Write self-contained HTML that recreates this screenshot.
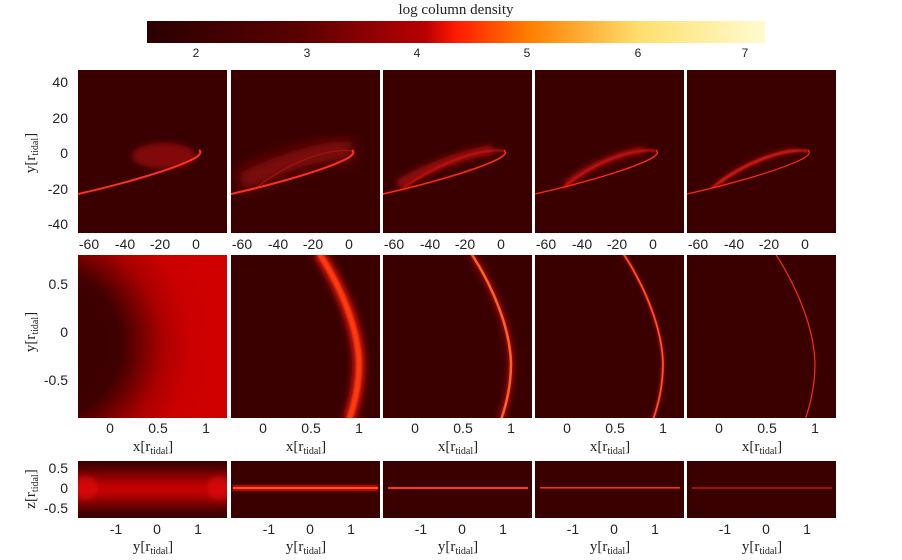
<!DOCTYPE html>
<html><head><meta charset="utf-8"><style>
html,body{margin:0;padding:0;background:#fff;width:902px;height:560px;overflow:hidden}
svg{display:block}
.t{font-family:"Liberation Sans",sans-serif;font-size:14px;fill:#222}
.s{font-family:"Liberation Serif",serif;font-size:15px;fill:#222}
.c{font-family:"Liberation Sans",sans-serif;font-size:12px;fill:#222}
</style></head><body>
<svg width="902" height="560" xmlns="http://www.w3.org/2000/svg">
<defs>
<linearGradient id="cb" x1="0" x2="1">
<stop offset="0" stop-color="#2a0000"/><stop offset="0.25" stop-color="#5a0000"/>
<stop offset="0.45" stop-color="#b80000"/><stop offset="0.5" stop-color="#ff1a00"/>
<stop offset="0.62" stop-color="#ff8000"/><stop offset="0.8" stop-color="#ffe070"/>
<stop offset="1" stop-color="#fffbd0"/></linearGradient>
<filter id="b1" x="-50%" y="-50%" width="200%" height="200%"><feGaussianBlur stdDeviation="1"/></filter>
<filter id="b3" x="-50%" y="-50%" width="200%" height="200%"><feGaussianBlur stdDeviation="3"/></filter>
<filter id="b8" x="-50%" y="-50%" width="200%" height="200%"><feGaussianBlur stdDeviation="7"/></filter>
<radialGradient id="rg" cx="-30" cy="90" r="190" gradientUnits="userSpaceOnUse">
<stop offset="0" stop-color="#3a0000"/><stop offset="0.38" stop-color="#3e0000"/>
<stop offset="0.6" stop-color="#aa0000"/><stop offset="0.75" stop-color="#cc0000"/><stop offset="1" stop-color="#d00000"/></radialGradient>
<linearGradient id="zg" x1="0" y1="0" x2="0" y2="1">
<stop offset="0" stop-color="#3a0000"/><stop offset="0.25" stop-color="#8a0000"/>
<stop offset="0.5" stop-color="#d00000"/><stop offset="0.75" stop-color="#8a0000"/><stop offset="1" stop-color="#3a0000"/></linearGradient>
<clipPath id="c1"><rect width="149" height="163"/></clipPath>
<clipPath id="c3"><rect width="149" height="57"/></clipPath>
<path id="arc" d="M88,-2 C112,35 127,75 128,108 C128,132 123,150 118,165"/>
</defs>
<text x="456" y="14" text-anchor="middle" class="s">log column density</text>
<rect x="147" y="21" width="618" height="22" fill="url(#cb)"/>
<g class="c" text-anchor="middle">
<text x="196" y="57">2</text><text x="307" y="57">3</text><text x="417" y="57">4</text>
<text x="527" y="57">5</text><text x="638" y="57">6</text><text x="745" y="57">7</text></g>

<!-- Row 1 -->
<g transform="translate(78,70)" clip-path="url(#c1)"><rect width="149" height="163" fill="#3a0000"/>
<ellipse cx="86" cy="86" rx="32" ry="13" fill="#a01010" opacity="0.7" filter="url(#b3)"/>
<path d="M0,124 C40,115 95,100 117,88 Q125,83 121,80" stroke="#ff3020" stroke-width="2" fill="none"/></g>
<g transform="translate(231,70)" clip-path="url(#c1)"><rect width="149" height="163" fill="#3a0000"/>
<path d="M121,81 C100,78 60,88 10,112" stroke="#8a0808" stroke-width="18" fill="none" filter="url(#b8)"/>
<path d="M121,81 C100,78 60,90 25,118" stroke="#a01010" stroke-width="1.2" fill="none"/>
<path d="M0,124 C40,115 95,100 117,88 Q125,83 121,80" stroke="#ff3020" stroke-width="2" fill="none"/></g>
<g transform="translate(383,70)" clip-path="url(#c1)"><rect width="149" height="163" fill="#3a0000"/>
<path d="M110,80 C90,82 50,94 15,115" stroke="#900808" stroke-width="10" fill="none" filter="url(#b3)"/>
<path d="M121,81 C100,78 60,90 20,118" stroke="#d01010" stroke-width="2" fill="none" filter="url(#b1)"/>
<path d="M0,124 C40,115 95,100 117,88 Q125,83 121,80" stroke="#ff2a10" stroke-width="1.6" fill="none"/></g>
<g transform="translate(535,70)" clip-path="url(#c1)"><rect width="149" height="163" fill="#3a0000"/>
<path d="M110,80 C90,82 55,94 30,115" stroke="#900808" stroke-width="7" fill="none" filter="url(#b3)"/>
<path d="M121,81 C100,78 60,90 28,118" stroke="#e01010" stroke-width="2" fill="none" filter="url(#b1)"/>
<path d="M0,124 C40,115 95,100 117,88 Q125,83 121,80" stroke="#ff2a10" stroke-width="1.4" fill="none"/></g>
<g transform="translate(687,70)" clip-path="url(#c1)"><rect width="149" height="163" fill="#3a0000"/>
<path d="M110,80 C90,82 55,94 30,115" stroke="#800808" stroke-width="5" fill="none" filter="url(#b3)"/>
<path d="M121,81 C100,78 60,90 25,118" stroke="#ff2010" stroke-width="2" fill="none" filter="url(#b1)"/>
<path d="M0,124 C40,115 95,100 117,88 Q125,83 121,80" stroke="#ff2a10" stroke-width="1.2" fill="none"/></g>
<g class="t" text-anchor="end"><text x="68" y="87">40</text><text x="68" y="123">20</text><text x="68" y="158">0</text><text x="68" y="194">-20</text><text x="68" y="229">-40</text></g>
<g class="t" text-anchor="middle">
<g transform="translate(78,249)"><text x="11">-60</text><text x="47">-40</text><text x="82">-20</text><text x="118">0</text></g>
<g transform="translate(231,249)"><text x="11">-60</text><text x="47">-40</text><text x="82">-20</text><text x="118">0</text></g>
<g transform="translate(383,249)"><text x="11">-60</text><text x="47">-40</text><text x="82">-20</text><text x="118">0</text></g>
<g transform="translate(535,249)"><text x="11">-60</text><text x="47">-40</text><text x="82">-20</text><text x="118">0</text></g>
<g transform="translate(687,249)"><text x="11">-60</text><text x="47">-40</text><text x="82">-20</text><text x="118">0</text></g></g>
<text class="s" transform="translate(35,153) rotate(-90)" text-anchor="middle">y[r<tspan font-size="10" dy="3">tidal</tspan><tspan dy="-3">]</tspan></text>

<!-- Row 2 -->
<g transform="translate(78,255)" clip-path="url(#c1)"><rect width="149" height="163" fill="url(#rg)"/></g>
<g transform="translate(231,255)" clip-path="url(#c1)"><rect width="149" height="163" fill="#3a0000"/>
<use href="#arc" stroke="#b01010" stroke-width="14" fill="none" filter="url(#b3)"/>
<use href="#arc" stroke="#ff3a10" stroke-width="6" fill="none" filter="url(#b1)"/></g>
<g transform="translate(383,255)" clip-path="url(#c1)"><rect width="149" height="163" fill="#3a0000"/>
<use href="#arc" stroke="#a00808" stroke-width="6" fill="none" filter="url(#b3)"/>
<use href="#arc" stroke="#ff6020" stroke-width="2.5" fill="none"/></g>
<g transform="translate(535,255)" clip-path="url(#c1)"><rect width="149" height="163" fill="#3a0000"/>
<use href="#arc" stroke="#900808" stroke-width="4" fill="none" filter="url(#b1)"/>
<use href="#arc" stroke="#ff5020" stroke-width="1.8" fill="none"/></g>
<g transform="translate(687,255)" clip-path="url(#c1)"><rect width="149" height="163" fill="#3a0000"/>
<use href="#arc" stroke="#ff2a10" stroke-width="1.2" fill="none"/></g>
<g class="t" text-anchor="end"><text x="68" y="289">0.5</text><text x="68" y="337">0</text><text x="68" y="385">-0.5</text></g>
<g class="t" text-anchor="middle">
<g transform="translate(78,433)"><text x="32">0</text><text x="80">0.5</text><text x="128">1</text></g>
<g transform="translate(231,433)"><text x="32">0</text><text x="80">0.5</text><text x="128">1</text></g>
<g transform="translate(383,433)"><text x="32">0</text><text x="80">0.5</text><text x="128">1</text></g>
<g transform="translate(535,433)"><text x="32">0</text><text x="80">0.5</text><text x="128">1</text></g>
<g transform="translate(687,433)"><text x="32">0</text><text x="80">0.5</text><text x="128">1</text></g></g>
<g class="s" text-anchor="middle">
<text x="153" y="451">x[r<tspan font-size="10" dy="3">tidal</tspan><tspan dy="-3">]</tspan></text>
<text x="306" y="451">x[r<tspan font-size="10" dy="3">tidal</tspan><tspan dy="-3">]</tspan></text>
<text x="458" y="451">x[r<tspan font-size="10" dy="3">tidal</tspan><tspan dy="-3">]</tspan></text>
<text x="610" y="451">x[r<tspan font-size="10" dy="3">tidal</tspan><tspan dy="-3">]</tspan></text>
<text x="762" y="451">x[r<tspan font-size="10" dy="3">tidal</tspan><tspan dy="-3">]</tspan></text></g>
<text class="s" transform="translate(35,332) rotate(-90)" text-anchor="middle">y[r<tspan font-size="10" dy="3">tidal</tspan><tspan dy="-3">]</tspan></text>

<!-- Row 3 -->
<g transform="translate(78,461)" clip-path="url(#c3)"><rect width="149" height="57" fill="#3a0000"/>
<rect x="-5" y="3" width="159" height="50" fill="url(#zg)" filter="url(#b3)"/>
<ellipse cx="8" cy="27" rx="12" ry="12" fill="#e01010" opacity="0.6" filter="url(#b3)"/>
<ellipse cx="141" cy="27" rx="12" ry="12" fill="#e01010" opacity="0.6" filter="url(#b3)"/></g>
<g transform="translate(231,461)" clip-path="url(#c3)"><rect width="149" height="57" fill="#3a0000"/>
<rect x="2" y="24" width="145" height="6" fill="#c01010" filter="url(#b1)"/>
<rect x="2" y="26" width="145" height="2" fill="#ff5020"/></g>
<g transform="translate(383,461)" clip-path="url(#c3)"><rect width="149" height="57" fill="#3a0000"/>
<rect x="5" y="26" width="140" height="2" fill="#ff3a10"/></g>
<g transform="translate(535,461)" clip-path="url(#c3)"><rect width="149" height="57" fill="#3a0000"/>
<rect x="5" y="26" width="140" height="1.6" fill="#ff3010"/></g>
<g transform="translate(687,461)" clip-path="url(#c3)"><rect width="149" height="57" fill="#3a0000"/>
<rect x="5" y="26.5" width="140" height="1" fill="#ff2a10"/></g>
<g class="t" text-anchor="end"><text x="68" y="473">0.5</text><text x="68" y="493">0</text><text x="68" y="513">-0.5</text></g>
<g class="t" text-anchor="middle">
<g transform="translate(78,534)"><text x="38">-1</text><text x="79">0</text><text x="120">1</text></g>
<g transform="translate(231,534)"><text x="38">-1</text><text x="79">0</text><text x="120">1</text></g>
<g transform="translate(383,534)"><text x="38">-1</text><text x="79">0</text><text x="120">1</text></g>
<g transform="translate(535,534)"><text x="38">-1</text><text x="79">0</text><text x="120">1</text></g>
<g transform="translate(687,534)"><text x="38">-1</text><text x="79">0</text><text x="120">1</text></g></g>
<g class="s" text-anchor="middle">
<text x="153" y="551">y[r<tspan font-size="10" dy="3">tidal</tspan><tspan dy="-3">]</tspan></text>
<text x="306" y="551">y[r<tspan font-size="10" dy="3">tidal</tspan><tspan dy="-3">]</tspan></text>
<text x="458" y="551">y[r<tspan font-size="10" dy="3">tidal</tspan><tspan dy="-3">]</tspan></text>
<text x="610" y="551">y[r<tspan font-size="10" dy="3">tidal</tspan><tspan dy="-3">]</tspan></text>
<text x="762" y="551">y[r<tspan font-size="10" dy="3">tidal</tspan><tspan dy="-3">]</tspan></text></g>
<text class="s" transform="translate(35,489) rotate(-90)" text-anchor="middle">z[r<tspan font-size="10" dy="3">tidal</tspan><tspan dy="-3">]</tspan></text>
</svg>
</body></html>
